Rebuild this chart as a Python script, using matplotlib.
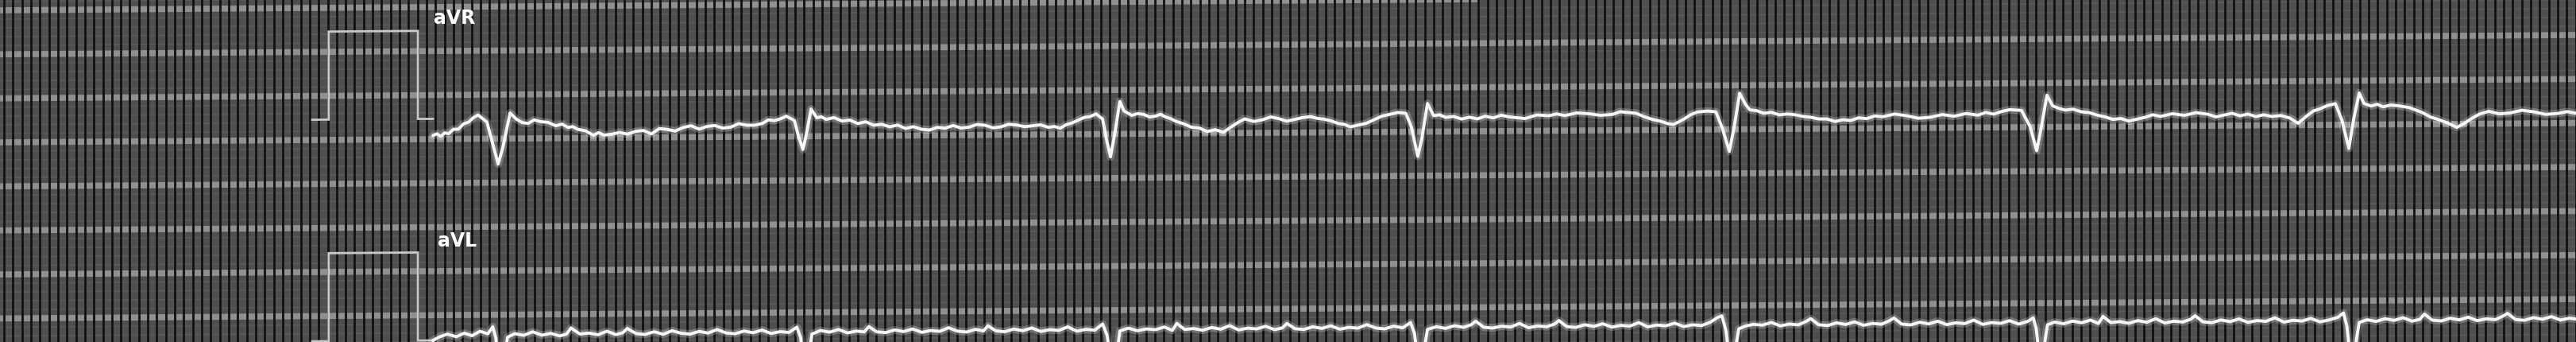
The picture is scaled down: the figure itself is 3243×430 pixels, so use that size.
import numpy as np
import matplotlib
matplotlib.use("Agg")
import matplotlib.pyplot as plt
import matplotlib.transforms as mtransforms

# --- ECG strip, leads aVR / aVL (time in s, amplitude in mV) ---
lead_names = ["aVR", "aVL"]

# 1 mV calibration pulse drawn in front of each lead
cal_pulse = [(1.389, 0.0), (1.462, 0.0), (1.462, 1.0), (1.859, 1.0), (1.859, 0.0), (1.926, 0.0)]

avr_trace = [
    (1.926, -0.19), (1.944, -0.17), (1.961, -0.20), (1.978, -0.16), (1.996, -0.17), (2.017, -0.12),
    (2.039, -0.12), (2.062, -0.06), (2.085, -0.04), (2.106, 0.01), (2.127, 0.04), (2.146, 0.00),
    (2.166, -0.04), (2.191, -0.28), (2.216, -0.52), (2.237, -0.33), (2.269, 0.06), (2.297, -0.01),
    (2.323, -0.05), (2.350, -0.06), (2.376, -0.02), (2.403, -0.04), (2.438, -0.05), (2.473, -0.09),
    (2.500, -0.07), (2.527, -0.11), (2.548, -0.10), (2.569, -0.13), (2.605, -0.15), (2.640, -0.20),
    (2.663, -0.17), (2.686, -0.20), (2.721, -0.19), (2.756, -0.17), (2.791, -0.19), (2.827, -0.16),
    (2.862, -0.15), (2.898, -0.19), (2.933, -0.13), (2.968, -0.14), (3.003, -0.16), (3.039, -0.12),
    (3.074, -0.10), (3.110, -0.14), (3.145, -0.11), (3.180, -0.10), (3.215, -0.13), (3.251, -0.12),
    (3.286, -0.08), (3.322, -0.10), (3.357, -0.10), (3.392, -0.08), (3.418, -0.04), (3.445, -0.05),
    (3.471, -0.03), (3.498, 0.00), (3.534, -0.05), (3.551, -0.22), (3.572, -0.38), (3.590, -0.17),
    (3.608, 0.08), (3.633, -0.02), (3.654, -0.01), (3.675, -0.04), (3.710, -0.02), (3.746, -0.06),
    (3.781, -0.05), (3.816, -0.09), (3.851, -0.07), (3.887, -0.11), (3.922, -0.10), (3.958, -0.13),
    (3.993, -0.11), (4.028, -0.15), (4.063, -0.13), (4.099, -0.16), (4.134, -0.17), (4.170, -0.14),
    (4.205, -0.15), (4.240, -0.12), (4.275, -0.15), (4.311, -0.14), (4.346, -0.11), (4.382, -0.12),
    (4.417, -0.15), (4.452, -0.14), (4.487, -0.11), (4.523, -0.12), (4.558, -0.14), (4.594, -0.13),
    (4.629, -0.12), (4.664, -0.15), (4.690, -0.14), (4.717, -0.16), (4.743, -0.12), (4.770, -0.10),
    (4.796, -0.07), (4.823, -0.04), (4.850, -0.03), (4.876, 0.00), (4.905, -0.06), (4.922, -0.29),
    (4.940, -0.49), (4.958, -0.24), (4.982, 0.14), (5.000, 0.03), (5.035, -0.02), (5.061, 0.00),
    (5.088, -0.01), (5.114, -0.04), (5.141, -0.03), (5.163, -0.01), (5.184, -0.04), (5.207, -0.06),
    (5.230, -0.09), (5.265, -0.12), (5.300, -0.16), (5.335, -0.17), (5.371, -0.21), (5.406, -0.19),
    (5.442, -0.22), (5.477, -0.16), (5.507, -0.11), (5.537, -0.07), (5.578, -0.10), (5.618, -0.08),
    (5.653, -0.05), (5.689, -0.07), (5.724, -0.10), (5.760, -0.08), (5.795, -0.06), (5.830, -0.05),
    (5.860, -0.07), (5.890, -0.08), (5.922, -0.10), (5.954, -0.13), (5.980, -0.14), (6.007, -0.17),
    (6.042, -0.15), (6.078, -0.13), (6.113, -0.09), (6.148, -0.05), (6.184, -0.03), (6.219, -0.01),
    (6.254, -0.02), (6.279, -0.18), (6.307, -0.51), (6.325, -0.31), (6.350, 0.09), (6.378, -0.05),
    (6.404, -0.04), (6.431, -0.07), (6.466, -0.06), (6.502, -0.09), (6.537, -0.07), (6.572, -0.09),
    (6.607, -0.06), (6.643, -0.08), (6.678, -0.05), (6.714, -0.07), (6.749, -0.08), (6.784, -0.09),
    (6.837, -0.05), (6.890, -0.06), (6.925, -0.04), (6.961, -0.06), (7.014, -0.03), (7.067, -0.04),
    (7.120, -0.06), (7.173, -0.05), (7.208, -0.02), (7.244, -0.03), (7.279, -0.04), (7.315, -0.08),
    (7.350, -0.11), (7.385, -0.13), (7.420, -0.16), (7.445, -0.17), (7.491, -0.11), (7.521, -0.06),
    (7.551, -0.03), (7.597, -0.02), (7.633, -0.03), (7.661, -0.21), (7.693, -0.48), (7.714, -0.21),
    (7.739, 0.18), (7.763, 0.06), (7.784, -0.01), (7.815, -0.02), (7.845, -0.05), (7.880, -0.04),
    (7.915, -0.07), (7.951, -0.06), (7.986, -0.07), (8.021, -0.09), (8.056, -0.10), (8.092, -0.12),
    (8.127, -0.12), (8.163, -0.15), (8.198, -0.13), (8.233, -0.14), (8.268, -0.11), (8.304, -0.12),
    (8.340, -0.09), (8.375, -0.10), (8.428, -0.07), (8.481, -0.09), (8.534, -0.12), (8.587, -0.11),
    (8.640, -0.08), (8.693, -0.10), (8.746, -0.07), (8.799, -0.09), (8.834, -0.06), (8.869, -0.08),
    (8.905, -0.05), (8.940, -0.03), (8.993, -0.04), (9.032, -0.23), (9.060, -0.50), (9.081, -0.23),
    (9.106, 0.13), (9.131, 0.01), (9.159, -0.02), (9.187, -0.04), (9.222, -0.03), (9.258, -0.06),
    (9.293, -0.07), (9.329, -0.10), (9.364, -0.12), (9.399, -0.15), (9.435, -0.14), (9.470, -0.17),
    (9.505, -0.15), (9.541, -0.13), (9.576, -0.10), (9.611, -0.12), (9.664, -0.09), (9.717, -0.11),
    (9.770, -0.08), (9.823, -0.10), (9.858, -0.13), (9.894, -0.11), (9.930, -0.09), (9.965, -0.12),
    (10.000, -0.10), (10.035, -0.13), (10.070, -0.11), (10.106, -0.13), (10.147, -0.12), (10.187, -0.15),
    (10.223, -0.21), (10.265, -0.12), (10.292, -0.07), (10.318, -0.05), (10.354, -0.01), (10.389, 0.01),
    (10.417, -0.17), (10.449, -0.50), (10.470, -0.17), (10.495, 0.13), (10.516, 0.01), (10.548, -0.02),
    (10.575, 0.00), (10.601, -0.03), (10.636, -0.01), (10.671, -0.02), (10.717, -0.04), (10.747, -0.07),
    (10.777, -0.10), (10.812, -0.15), (10.848, -0.18), (10.889, -0.22), (10.929, -0.27), (10.959, -0.23),
    (10.989, -0.18), (11.030, -0.12), (11.071, -0.09), (11.118, -0.12), (11.166, -0.11), (11.219, -0.08),
    (11.272, -0.10), (11.325, -0.13), (11.378, -0.12), (11.420, -0.10), (11.459, -0.12),
]

avl_trace = [
    (1.926, 0.00), (1.955, 0.04), (1.990, 0.07), (2.030, 0.04), (2.065, 0.08), (2.100, 0.05),
    (2.135, 0.10), (2.170, 0.07), (2.192, 0.15), (2.206, 0.02), (2.220, -0.35), (2.240, -0.30),
    (2.258, 0.03), (2.290, 0.07), (2.330, 0.05), (2.370, 0.09), (2.410, 0.05), (2.450, 0.07),
    (2.490, 0.04), (2.520, 0.06), (2.540, 0.13), (2.580, 0.06), (2.620, 0.07), (2.660, 0.05),
    (2.700, 0.09), (2.740, 0.05), (2.770, 0.07), (2.790, 0.12), (2.830, 0.06), (2.870, 0.05),
    (2.910, 0.08), (2.950, 0.05), (2.990, 0.09), (3.030, 0.06), (3.070, 0.05), (3.110, 0.08),
    (3.150, 0.06), (3.190, 0.10), (3.230, 0.06), (3.270, 0.05), (3.310, 0.08), (3.350, 0.06),
    (3.390, 0.09), (3.430, 0.05), (3.470, 0.07), (3.510, 0.06), (3.545, 0.12), (3.562, 0.00),
    (3.575, -0.32), (3.595, -0.26), (3.612, 0.04), (3.650, 0.08), (3.690, 0.06), (3.730, 0.09),
    (3.770, 0.05), (3.810, 0.07), (3.845, 0.06), (3.865, 0.12), (3.900, 0.06), (3.940, 0.05),
    (3.980, 0.08), (4.020, 0.06), (4.060, 0.09), (4.100, 0.05), (4.140, 0.07), (4.180, 0.06),
    (4.220, 0.10), (4.260, 0.06), (4.300, 0.05), (4.340, 0.08), (4.375, 0.06), (4.395, 0.12),
    (4.430, 0.06), (4.470, 0.05), (4.510, 0.08), (4.550, 0.06), (4.590, 0.09), (4.630, 0.05),
    (4.670, 0.07), (4.710, 0.06), (4.750, 0.10), (4.790, 0.05), (4.830, 0.07), (4.870, 0.06),
    (4.905, 0.13), (4.925, 0.00), (4.945, -0.35), (4.965, -0.28), (4.982, 0.05), (5.020, 0.08),
    (5.060, 0.05), (5.100, 0.07), (5.140, 0.06), (5.180, 0.09), (5.215, 0.05), (5.235, 0.13),
    (5.270, 0.06), (5.310, 0.07), (5.350, 0.05), (5.390, 0.08), (5.430, 0.06), (5.470, 0.10),
    (5.510, 0.05), (5.550, 0.07), (5.590, 0.06), (5.630, 0.09), (5.670, 0.05), (5.705, 0.07),
    (5.725, 0.12), (5.760, 0.06), (5.800, 0.05), (5.840, 0.08), (5.880, 0.06), (5.920, 0.09),
    (5.960, 0.05), (6.000, 0.07), (6.040, 0.06), (6.080, 0.10), (6.120, 0.06), (6.160, 0.05),
    (6.200, 0.08), (6.240, 0.06), (6.275, 0.12), (6.292, 0.00), (6.310, -0.33), (6.330, -0.27),
    (6.350, 0.04), (6.390, 0.07), (6.430, 0.05), (6.470, 0.08), (6.510, 0.06), (6.545, 0.09),
    (6.565, 0.13), (6.600, 0.06), (6.640, 0.05), (6.680, 0.07), (6.720, 0.06), (6.760, 0.10),
    (6.800, 0.05), (6.840, 0.07), (6.880, 0.06), (6.915, 0.09), (6.935, 0.13), (6.970, 0.06),
    (7.010, 0.05), (7.050, 0.08), (7.090, 0.06), (7.130, 0.09), (7.170, 0.05), (7.210, 0.07),
    (7.250, 0.06), (7.290, 0.10), (7.330, 0.05), (7.370, 0.07), (7.410, 0.06), (7.450, 0.09),
    (7.490, 0.05), (7.530, 0.07), (7.570, 0.06), (7.610, 0.10), (7.640, 0.15), (7.660, 0.17),
    (7.678, 0.00), (7.695, -0.35), (7.715, -0.28), (7.735, 0.02), (7.763, 0.05), (7.800, 0.07),
    (7.840, 0.06), (7.880, 0.09), (7.920, 0.05), (7.960, 0.07), (8.000, 0.06), (8.035, 0.10),
    (8.055, 0.13), (8.090, 0.06), (8.130, 0.05), (8.170, 0.08), (8.210, 0.06), (8.250, 0.09),
    (8.290, 0.05), (8.330, 0.07), (8.370, 0.06), (8.405, 0.10), (8.425, 0.13), (8.460, 0.06),
    (8.500, 0.05), (8.540, 0.08), (8.580, 0.06), (8.620, 0.09), (8.660, 0.05), (8.700, 0.07),
    (8.740, 0.06), (8.780, 0.10), (8.820, 0.05), (8.860, 0.07), (8.900, 0.06), (8.940, 0.09),
    (8.980, 0.05), (9.020, 0.08), (9.045, 0.12), (9.058, 0.00), (9.072, -0.33), (9.090, -0.27),
    (9.108, 0.04), (9.140, 0.07), (9.180, 0.05), (9.220, 0.08), (9.260, 0.06), (9.300, 0.09),
    (9.335, 0.05), (9.355, 0.13), (9.390, 0.06), (9.430, 0.07), (9.470, 0.05), (9.510, 0.08),
    (9.550, 0.06), (9.590, 0.10), (9.630, 0.05), (9.670, 0.07), (9.710, 0.06), (9.745, 0.09),
    (9.765, 0.13), (9.800, 0.06), (9.840, 0.05), (9.880, 0.08), (9.920, 0.06), (9.960, 0.09),
    (10.000, 0.05), (10.040, 0.07), (10.080, 0.06), (10.120, 0.10), (10.160, 0.05), (10.200, 0.07),
    (10.240, 0.06), (10.280, 0.09), (10.320, 0.05), (10.360, 0.07), (10.400, 0.10), (10.425, 0.15),
    (10.440, 0.00), (10.455, -0.34), (10.475, -0.27), (10.495, 0.04), (10.530, 0.07), (10.570, 0.05),
    (10.610, 0.08), (10.650, 0.06), (10.690, 0.09), (10.730, 0.05), (10.765, 0.07), (10.785, 0.13),
    (10.820, 0.06), (10.860, 0.05), (10.900, 0.08), (10.940, 0.06), (10.980, 0.09), (11.020, 0.05),
    (11.060, 0.07), (11.100, 0.06), (11.135, 0.10), (11.155, 0.13), (11.190, 0.06), (11.230, 0.05),
    (11.270, 0.08), (11.310, 0.06), (11.350, 0.09), (11.390, 0.05), (11.430, 0.07), (11.459, 0.06),
]

# --- paper / scan geometry ---
W, H, DPI = 3243, 430, 100
PX_MM_X, PX_MM_Y = 11.32, 11.07     # scan is not quite square
MM_PER_S, MM_PER_MV = 25, 10
PX_PER_S = PX_MM_X * MM_PER_S
PX_PER_MV = PX_MM_Y * MM_PER_MV
TILT = 0.0075                        # strip rises slightly to the right
zero_px = [153.5, 432.1]             # 0 mV line of each lead, from the top
label_pos = [(2.020, 1.14), (2.034, 1.13)]

fig = plt.figure(figsize=(W / DPI, H / DPI), dpi=DPI, facecolor="#4e4e4e")
skew = mtransforms.Affine2D().skew(0, np.arctan(TILT))

# grid on its own axes, in mm
bg = fig.add_axes([0, 0, 1, 1])
bg.set_xlim(0, W / PX_MM_X)
bg.set_ylim(H / PX_MM_Y, 0)
bg.set_axis_off()
tr = bg.transData + skew
bg.hlines(np.arange(1.17 - 10, 50, 1.0), -5, 300, colors="#5a5a5a", lw=1.4, transform=tr, zorder=1)
bg.hlines(np.arange(1.17 - 10, 50, 5.0), -5, 300, colors="#909090", lw=5.5, transform=tr, zorder=2)
bg.vlines(np.arange(0.44, W / PX_MM_X + 1, 1.0), -10, 60, colors="#101010", lw=2.0, transform=tr, zorder=3)

traces = [avr_trace, avl_trace]
for name, trace, z, (lx, ly) in zip(lead_names, traces, zero_px, label_pos):
    ax = fig.add_axes([0, 0, 1, 1])
    ax.set_xlim(0, W / PX_PER_S)
    ax.set_ylim(-(H - z) / PX_PER_MV, z / PX_PER_MV)
    ax.set_axis_off()
    tr = ax.transData + skew

    ct, cv = zip(*cal_pulse)
    ax.plot(ct, cv, color="#c9c9c9", lw=2.0, transform=tr, solid_joinstyle="miter")

    t, mv = zip(*trace)
    ax.plot(t, mv, color="white", lw=7, alpha=0.22, transform=tr,
            solid_joinstyle="round", solid_capstyle="round")
    ax.plot(t, mv, color="#f6f6f6", lw=2.8, transform=tr,
            solid_joinstyle="round", solid_capstyle="round")

    ax.text(lx, ly, name, transform=tr, color="white", fontsize=17, fontweight="bold",
            ha="center", va="center", family="DejaVu Sans")

fig.savefig("out.png", dpi=DPI, facecolor=fig.get_facecolor())
